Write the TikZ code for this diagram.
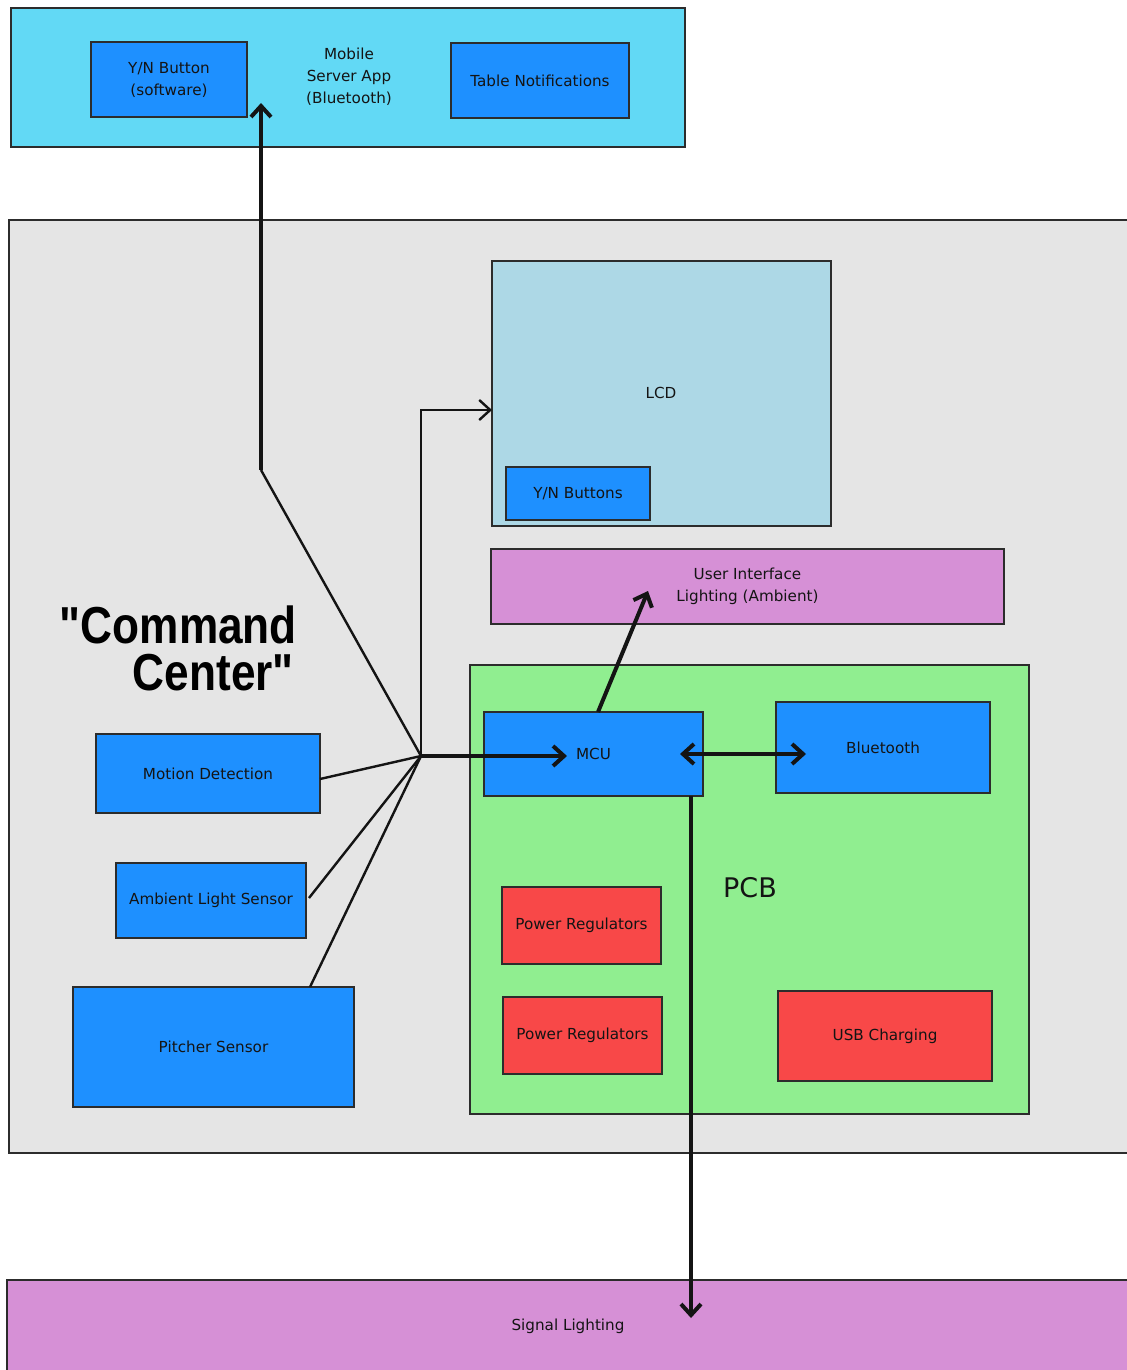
\documentclass[tikz,border=0pt]{standalone}
\usepackage{fontspec}
\setmainfont{DejaVu Sans}
\newfontfamily\ccfont[FakeStretch=0.85]{Liberation Sans}
\usetikzlibrary{arrows.meta,fit}
\definecolor{topcyan}{RGB}{98,217,245}
\definecolor{ccgray}{RGB}{229,229,229}
\definecolor{bluebox}{RGB}{30,144,255}
\definecolor{lcdblue}{RGB}{173,216,230}
\definecolor{plumbox}{RGB}{214,144,214}
\definecolor{pcbgreen}{RGB}{144,238,144}
\definecolor{redbox}{RGB}{248,72,72}
\definecolor{ink}{RGB}{20,20,20}
\begin{document}
\begin{tikzpicture}[x=0.5pt,y=-0.5pt,
  box/.style={draw=ink!90, line width=1pt, inner sep=0pt},
  lbl/.style={font=\fontsize{7.6}{11}\selectfont, text=ink, align=center},
  boxtext/.style={label={[lbl]center:#1}},
  thinline/.style={line width=1.2pt, draw=ink},
  thickline/.style={line width=2pt, draw=ink},
  barb/.style={-{Straight Barb[length=5.5pt,width=10pt]}},
  dbarb/.style={{Straight Barb[length=5.5pt,width=10pt]}-{Straight Barb[length=5.5pt,width=10pt]}}
]
\fill[white] (0,0) rectangle (1127,1370);
\clip (0,0) rectangle (1127,1370);

% top mobile app box
\node[box, fill=topcyan, fit={(11,8)(685,147)}] (app) {};
\node[box, fill=bluebox, fit={(91,42)(247,117)}, boxtext={Y/N Button\\(software)}] (yns) {};
\node[lbl] (applbl) at (349,77) {Mobile\\Server App\\(Bluetooth)};
\node[box, fill=bluebox, fit={(451,43)(629,118)}, boxtext={Table Notifications}] (tn) {};

% command center
\node[box, fill=ccgray, fit={(9,220)(1140,1153)}] (cc) {};
\node[box, fill=lcdblue, fit={(492,261)(831,526)}] (lcd) {};
\node[lbl] (lcdlbl) at (661,393) {LCD};
\node[box, fill=bluebox, fit={(506,467)(650,520)}, boxtext={Y/N Buttons}] (ynb) {};
\node[box, fill=plumbox, fit={(491,549)(1004,624)}, boxtext={User Interface\\Lighting (Ambient)}] (uil) {};

\node[box, fill=pcbgreen, fit={(470,665)(1029,1114)}] (pcb) {};
\node[font=\fontsize{13.5}{16}\selectfont, text=ink] (pcblbl) at (750,888) {PCB};
\node[box, fill=bluebox, fit={(484,712)(703,796)}, boxtext={MCU}] (mcu) {};
\node[box, fill=bluebox, fit={(776,702)(990,793)}, boxtext={Bluetooth}] (bt) {};
\node[box, fill=redbox, fit={(502,887)(661,964)}, boxtext={Power Regulators}] (pr1) {};
\node[box, fill=redbox, fit={(503,997)(662,1074)}, boxtext={Power Regulators}] (pr2) {};
\node[box, fill=redbox, fit={(778,991)(992,1081)}, boxtext={USB Charging}] (usb) {};

\node[box, fill=bluebox, fit={(96,734)(320,813)}, boxtext={Motion Detection}] (md) {};
\node[box, fill=bluebox, fit={(116,863)(306,938)}, boxtext={Ambient Light Sensor}] (als) {};
\node[box, fill=bluebox, fit={(73,987)(354,1107)}, boxtext={Pitcher Sensor}] (ps) {};

\node[anchor=base east, font=\ccfont\bfseries\fontsize{26}{30}\selectfont, text=black] (cc1) at (304,643) {"Command};
\node[anchor=base east, font=\ccfont\bfseries\fontsize{26}{30}\selectfont, text=black] (cc2) at (301,690) {Center"};

% signal lighting
\node[box, fill=plumbox, fit={(7,1280)(1140,1380)}] (sig) {};
\node[lbl] (siglbl) at (568,1326) {Signal Lighting};

% connector points
\coordinate (J) at (421,756);
\coordinate (mdout) at (320,779);
\coordinate (alsout) at (309,898);
\coordinate (psout) at (310,987);
\coordinate (bend) at (261,470);
\coordinate (ynstip) at (261,103);
\coordinate (lcdcorner) at (421,410);
\coordinate (lcdin) at (492,410);
\coordinate (mcuin) at (567,756);
\coordinate (mcuR) at (680,754);
\coordinate (btin) at (806,754);
\coordinate (mcutop) at (598,712);
\coordinate (uilin) at (648,591);
\coordinate (mcubot) at (691,796);
\coordinate (sigin) at (691,1318);

% connectors
\draw[thinline] (mdout) -- (J);
\draw[thinline] (alsout) -- (J);
\draw[thinline] (psout) -- (J);
\draw[thinline] (J) -- (bend);
\draw[thickline, barb] (bend) -- (ynstip);
\draw[thinline, barb] (J) -- (lcdcorner) -- (lcdin);
\draw[thickline, barb] (J) -- (mcuin);
\draw[thickline, dbarb] (mcuR) -- (btin);
\draw[thickline, barb] (mcutop) -- (uilin);
\draw[thickline, barb] (mcubot) -- (sigin);
\end{tikzpicture}
\end{document}
